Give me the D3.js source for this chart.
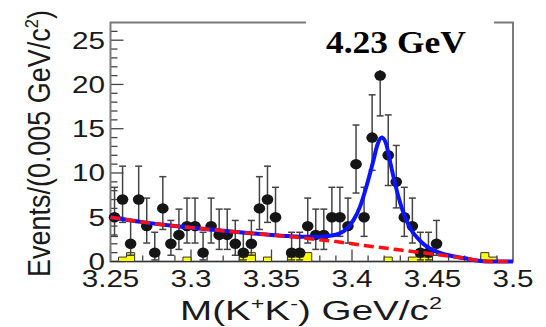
<!DOCTYPE html>
<html>
<head>
<meta charset="utf-8">
<script src="https://cdn.jsdelivr.net/npm/d3@7"></script>
<style>
  html, body { margin: 0; padding: 0; background: #fff; }
  svg { display: block; }
</style>
</head>
<body>
<svg id="chart" width="546" height="327"></svg>
<script>
// M(K+K-) spectrum at sqrt(s) = 4.23 GeV, 0.005 GeV/c^2 bins from 3.25 to 3.50
const binLow = 3.25;
const binWidth = 0.005;
const counts = [5, 7, 2, 7, 4, 1, 6, 2, 3, 4,
                4, 1, 4, 3, 3, 2, 1, 2, 6, 7,
                5, 0, 1, 1, 4, 3, 3, 5, 5, 4,
                11, 5, 14, 21, 12, 9, 5, 4, 1, 1,
                2, 0, 0, 0, 0, 0, 0, 0, 0, 0];
// scaled sideband background (yellow histogram)
const sideband = [0, 0.5, 1, 0, 0, 0, 0, 0, 0, 0.5,
                  0, 0, 0, 0, 0, 0, 0.5, 1, 0, 0.5,
                  0, 0, 0.5, 0.5, 1, 0, 0, 0, 0, 0,
                  0, 0, 0, 0, 0.5, 0, 0, 0.5, 0.5, 0.5,
                  0, 0, 0, 0, 0, 0, 1, 0.5, 0, 0];
// 68% Poisson interval bounds, indexed by the observed count
const poissonLo = [0, 0.173, 0.708, 1.367, 2.086, 2.840, 3.620, 4.419, 5.232, 6.057, 6.891,
                   7.734, 8.585, 9.441, 10.30, 11.17, 12.04, 12.92, 13.80, 14.68, 15.57, 16.45];
const poissonHi = [1.841, 3.300, 4.638, 5.918, 7.163, 8.382, 9.584, 10.77, 11.95, 13.11, 14.27,
                   15.42, 16.56, 17.70, 18.83, 19.96, 21.08, 22.20, 23.32, 24.44, 25.55, 26.66];
// total fit (signal + background)
const fitMass  = [3.25, 3.27, 3.29, 3.31, 3.33, 3.35, 3.36, 3.37, 3.38, 3.386, 3.392, 3.397, 3.401,
                  3.405, 3.409, 3.413, 3.416, 3.4185, 3.421, 3.424, 3.427, 3.431, 3.436, 3.442,
                  3.448, 3.455, 3.462, 3.47, 3.48, 3.485, 3.5];
const fitTotal = [5.0, 4.45, 4.0, 3.65, 3.3, 3.0, 2.88, 2.8, 2.8, 2.9, 3.15, 3.75, 4.7,
                  6.2, 8.5, 11.2, 13.3, 14.0, 13.4, 11.0, 8.6, 6.0, 3.8, 2.4,
                  1.5, 0.95, 0.62, 0.36, 0.06, 0, 0];
// background component of the fit
const bkgMass  = [3.25, 3.27, 3.29, 3.31, 3.33, 3.35, 3.37, 3.39, 3.41, 3.43, 3.45, 3.46, 3.47, 3.48, 3.485, 3.5];
const bkgLevel = [5.0, 4.45, 4.0, 3.65, 3.3, 3.0, 2.65, 2.25, 1.75, 1.3, 0.85, 0.62, 0.36, 0.08, 0, 0];

const xMajor = [3.25, 3.3, 3.35, 3.4, 3.45, 3.5];
const xMajorLabels = ["3.25", "3.3", "3.35", "3.4", "3.45", "3.5"];
const yMajor = [0, 5, 10, 15, 20, 25];
const yMajorLabels = ["0", "5", "10", "15", "20", "25"];

const svg = d3.select("#chart");
const x = d3.scaleLinear().domain([3.25, 3.5]).range([110.5, 513]);
const y = d3.scaleLinear().domain([0, 27]).range([261.5, 22.5]);
const [xL, xR] = x.range();
const [yB, yT] = y.range();

svg.append("rect").attr("width", 546).attr("height", 327).attr("fill", "#fff");

// ---- axes ----
const tickColor = "#444";
const minorX = d3.range(0, 26).map(i => 3.25 + i * 0.01);
const minorY = d3.range(0, 27);
const axisG = svg.append("g").attr("stroke", tickColor).attr("stroke-width", 1.3);
axisG.selectAll("line.xt").data(minorX).join("line")
  .attr("x1", d => x(d)).attr("x2", d => x(d))
  .attr("y1", yB).attr("y2", d => yB - (xMajor.some(m => Math.abs(m - d) < 1e-6) ? 12 : 6));
axisG.selectAll("line.yt").data(minorY).join("line")
  .attr("y1", d => y(d)).attr("y2", d => y(d))
  .attr("x1", xL).attr("x2", d => xL + (d % 5 === 0 ? 13 : 7));

svg.append("rect")
  .attr("x", xL).attr("y", yT).attr("width", xR - xL).attr("height", yB - yT)
  .attr("fill", "none").attr("stroke", "#7a7a7a").attr("stroke-width", 2);

// tick labels, widened like the original typesetting
const numFont = "'Liberation Sans', Arial, Helvetica, sans-serif";
svg.append("g").selectAll("text").data(xMajor).join("text")
  .attr("transform", d => `translate(${x(d)},287) scale(1.29,1)`)
  .attr("text-anchor", "middle").attr("font-family", numFont).attr("font-size", 23)
  .attr("fill", "#1a1a1a")
  .text((d, i) => xMajorLabels[i]);
svg.append("g").selectAll("text").data(yMajor).join("text")
  .attr("transform", d => `translate(105,${y(d) + 8.3}) scale(1.29,1)`)
  .attr("text-anchor", "end").attr("font-family", numFont).attr("font-size", 23)
  .attr("fill", "#1a1a1a")
  .text((d, i) => yMajorLabels[i]);

// ---- sideband histogram (step outline, filled) ----
const edges = sideband.map((v, i) => ({ m: binLow + i * binWidth, v }));
edges.push({ m: binLow + sideband.length * binWidth, v: 0 });
svg.append("path")
  .datum(edges)
  .attr("d", d3.area().x(d => x(d.m)).y0(yB).y1(d => y(d.v)).curve(d3.curveStepAfter))
  .attr("fill", "#ffff00").attr("stroke", "#333").attr("stroke-width", 1);

// ---- data points with Poisson error bars ----
const pts = counts.map((n, i) => ({ m: binLow + (i + 0.5) * binWidth, n })).filter(d => d.n > 0);
const errG = svg.append("g").attr("stroke", "#444").attr("stroke-width", 1.5);
errG.selectAll("line.bar").data(pts).join("line")
  .attr("x1", d => x(d.m)).attr("x2", d => x(d.m))
  .attr("y1", d => y(poissonLo[d.n])).attr("y2", d => y(poissonHi[d.n]));
errG.selectAll("line.lo").data(pts).join("line")
  .attr("x1", d => x(d.m) - 3.5).attr("x2", d => x(d.m) + 3.5)
  .attr("y1", d => y(poissonLo[d.n])).attr("y2", d => y(poissonLo[d.n]));
errG.selectAll("line.hi").data(pts).join("line")
  .attr("x1", d => x(d.m) - 3.5).attr("x2", d => x(d.m) + 3.5)
  .attr("y1", d => y(poissonHi[d.n])).attr("y2", d => y(poissonHi[d.n]));
svg.append("g").selectAll("ellipse").data(pts).join("ellipse")
  .attr("cx", d => x(d.m)).attr("cy", d => y(d.n))
  .attr("rx", 5.8).attr("ry", 5.2).attr("fill", "#151515");

// ---- fit curves ----
const line = d3.line().x(d => x(d[0])).y(d => y(d[1])).curve(d3.curveMonotoneX);
svg.append("path")
  .attr("d", line(fitMass.map((m, i) => [m, fitTotal[i]])))
  .attr("fill", "none").attr("stroke", "#0a14ff").attr("stroke-width", 4);
svg.append("path")
  .attr("d", line(bkgMass.map((m, i) => [m, bkgLevel[i]])))
  .attr("fill", "none").attr("stroke", "#ff1010").attr("stroke-width", 3.5)
  .attr("stroke-dasharray", "10,5");

// ---- energy label on a white pave ----
svg.append("rect").attr("x", 306).attr("y", 14).attr("width", 188).attr("height", 56).attr("fill", "#fff");
const title = svg.append("text")
  .attr("font-family", "'Liberation Serif', 'Times New Roman', serif")
  .attr("font-weight", "bold").attr("font-size", 31).attr("fill", "#000")
  .text("4.23 GeV");
{
  const w = title.node().getComputedTextLength();
  title.attr("transform", `translate(326,53) scale(${140 / w},1)`);
}

// ---- axis titles ----
const xTitle = svg.append("text")
  .attr("font-family", numFont).attr("font-size", 28).attr("fill", "#1a1a1a");
xTitle.append("tspan").text("M(K");
xTitle.append("tspan").attr("font-size", 17).attr("dy", -11).text("+");
xTitle.append("tspan").attr("dy", 11).text("K");
xTitle.append("tspan").attr("font-size", 17).attr("dy", -11).text("-");
xTitle.append("tspan").attr("dy", 11).text(") GeV/c");
xTitle.append("tspan").attr("font-size", 17).attr("dy", -11).text("2");
{
  const w = xTitle.node().getComputedTextLength();
  xTitle.attr("transform", `translate(180,320) scale(${262 / w},1)`);
}

const yTitle = svg.append("text")
  .attr("font-family", numFont).attr("font-size", 31).attr("fill", "#1a1a1a");
yTitle.append("tspan").text("Events/(0.005 GeV/c");
yTitle.append("tspan").attr("font-size", 19).attr("dy", -12).text("2");
yTitle.append("tspan").attr("dy", 12).text(")");
{
  const w = yTitle.node().getComputedTextLength();
  yTitle.attr("transform", `translate(50,277) rotate(-90) scale(${267 / w},1)`);
}
</script>
</body>
</html>
